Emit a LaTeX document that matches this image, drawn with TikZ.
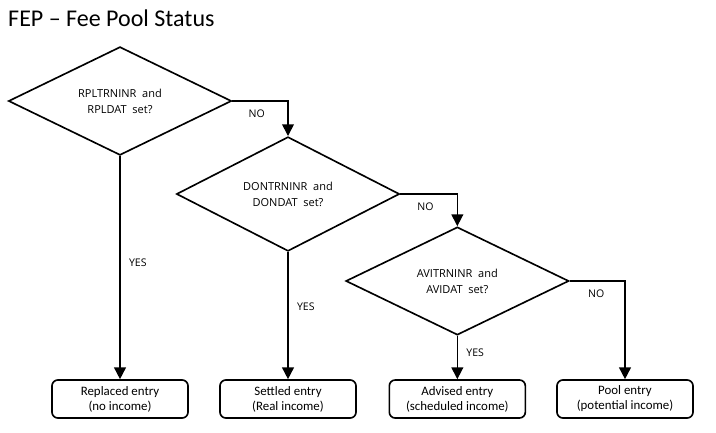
\documentclass[tikz,border=0pt]{standalone}
\usepackage{fontspec}
\setmainfont{Carlito}
\newfontfamily\qfont{Open Sans}
\usepackage{tikz}
\usetikzlibrary{shapes.geometric, arrows.meta, positioning}

\begin{document}
\begin{tikzpicture}[
  question/.style={
    diamond, draw=black, line width=1.4pt, inner sep=0pt,
    minimum width=6.69cm, minimum height=3.24cm,
    align=center, font=\qfont\fontsize{9.4}{13.8}\selectfont
  },
  result/.style={
    rectangle, rounded corners=5pt,
    draw=black, line width=1.4pt,
    minimum width=4.08cm, minimum height=1.14cm,
    align=center, font=\fontsize{11}{12.8}\selectfont
  },
  answer/.style={font=\qfont\fontsize{9}{11}\selectfont, inner sep=1pt},
  arrow/.style={-{Triangle[length=10pt, width=10pt]}, line width=1.4pt, black}
]
\useasboundingbox (0,0) rectangle (21.48,-12.96);

% ---- Title ----
\node[anchor=base west, inner sep=0pt, font=\fontsize{20.5}{24}\selectfont]
  (title) at (0.24,-0.8) {FEP -- Fee Pool Status};

% ---- Decisions ----
\node[question] (rpl) at (3.6,-3.03)  {RPLTRNINR\ \ and\\RPLDAT\ \ set?};
\node[question] (don) at (8.64,-5.82) {DONTRNINR\ \ and\\DONDAT\ \ set?};
\node[question] (avi) at (13.72,-8.43) {AVITRNINR\ \ and\\AVIDAT\ \ set?};

% ---- Results ----
\node[result] (replaced) at (3.6,-11.97)   {Replaced entry\\(no income)};
\node[result] (settled)  at (8.64,-11.97)  {Settled entry\\(Real income)};
\node[result] (advised)  at (13.72,-11.97) {Advised entry\\(scheduled income)};
\node[result] (pool)     at (18.75,-11.97) {Pool entry\\(potential income)};

% ---- Arrows ----
\draw[arrow] (rpl.east) -| node[answer, pos=0.22, below=6pt] {NO} (don.north);
\draw[arrow] (don.east) -| node[answer, pos=0.22, below=6pt] {NO} (avi.north);
\draw[arrow] (avi.east) -| node[answer, pos=0.24, below=6pt] {NO} (pool.north);

\draw[arrow] (rpl.south) -- node[answer, pos=0.48, right=6pt] {YES} (replaced.north);
\draw[arrow] (don.south) -- node[answer, pos=0.43, right=6pt] {YES} (settled.north);
\draw[arrow] (avi.south) -- node[answer, pos=0.39, right=6pt] {YES} (advised.north);

\end{tikzpicture}
\end{document}
